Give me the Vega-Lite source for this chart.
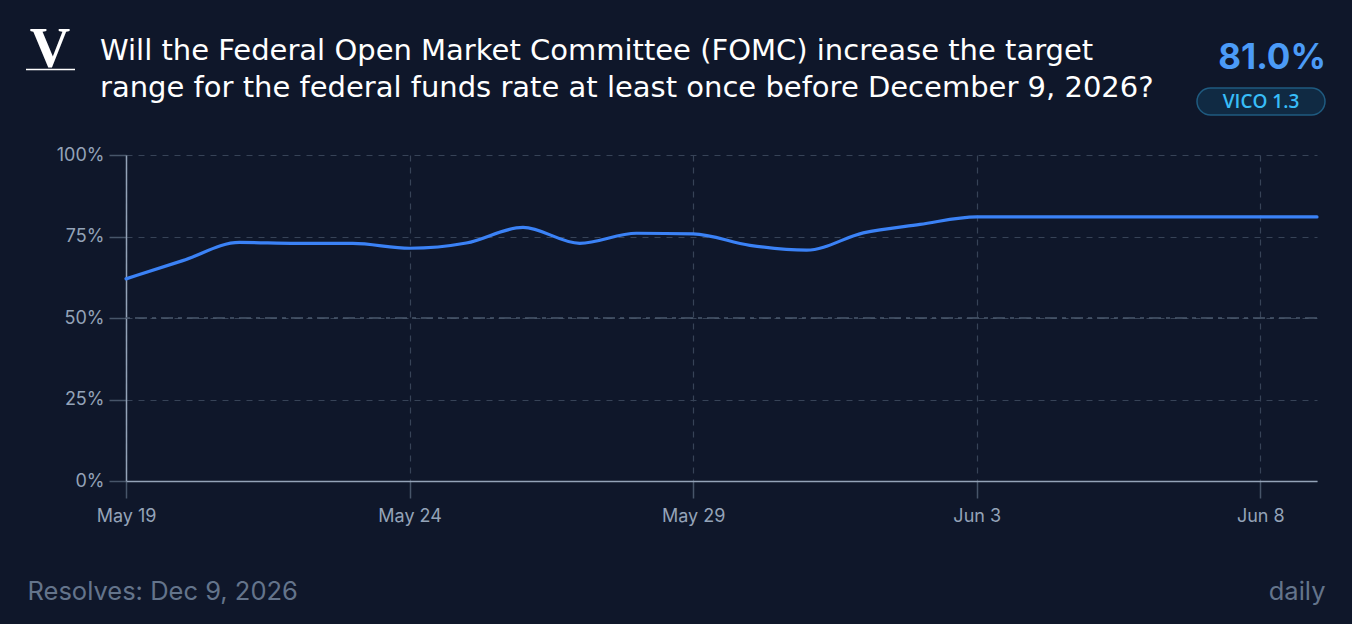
{
  "$schema": "https://vega.github.io/schema/vega-lite/v6.json",
  "width": 1191,
  "height": 326,
  "autosize": {"type": "none"},
  "padding": {"left": 126, "top": 155, "right": 35, "bottom": 143},
  "background": "#0f172a",
  "config": {
    "view": {"stroke": null},
    "font": "Inter",
    "axis": {
      "gridColor": "#374357",
      "gridDash": [6, 6],
      "gridWidth": 1.2,
      "domainColor": "#94a3b8",
      "domainWidth": 1.5,
      "tickColor": "#475569",
      "tickSize": 17,
      "tickWidth": 1.5,
      "labelColor": "#94a3b8",
      "labelFontSize": 18,
      "labelFont": "Inter"
    }
  },
  "datasets": {
    "series": [
      {"date": "2026-05-19T00:00:00", "value": 62.0},
      {"date": "2026-05-20T00:00:00", "value": 67.6},
      {"date": "2026-05-21T00:00:00", "value": 73.2},
      {"date": "2026-05-22T00:00:00", "value": 72.9},
      {"date": "2026-05-23T00:00:00", "value": 72.9},
      {"date": "2026-05-24T00:00:00", "value": 71.4},
      {"date": "2026-05-25T00:00:00", "value": 73.0},
      {"date": "2026-05-26T00:00:00", "value": 77.8},
      {"date": "2026-05-27T00:00:00", "value": 72.9},
      {"date": "2026-05-28T00:00:00", "value": 76.0},
      {"date": "2026-05-29T00:00:00", "value": 75.8},
      {"date": "2026-05-30T00:00:00", "value": 72.3},
      {"date": "2026-05-31T00:00:00", "value": 70.8},
      {"date": "2026-06-01T00:00:00", "value": 76.1},
      {"date": "2026-06-02T00:00:00", "value": 78.7},
      {"date": "2026-06-03T00:00:00", "value": 81.0},
      {"date": "2026-06-04T00:00:00", "value": 81.0},
      {"date": "2026-06-05T00:00:00", "value": 81.0},
      {"date": "2026-06-06T00:00:00", "value": 81.0},
      {"date": "2026-06-07T00:00:00", "value": 81.0},
      {"date": "2026-06-08T00:00:00", "value": 81.0},
      {"date": "2026-06-09T00:00:00", "value": 81.0}
    ],
    "midline": [{"level": 50}],
    "question": [{"label": "Will the Federal Open Market Committee (FOMC) increase the target\nrange for the federal funds rate at least once before December 9, 2026?"}],
    "current": [{"label": "81.0%"}],
    "model": [{"label": "VICO 1.3"}],
    "logo": [{"label": "V"}]
  },
  "layer": [
    {
      "data": {"name": "midline"},
      "mark": {"type": "rule", "color": "#4b5a6e", "strokeWidth": 1.5, "strokeDash": [12, 5, 4, 5]},
      "encoding": {
        "y": {"field": "level", "type": "quantitative", "scale": {"domain": [0, 100]}}
      }
    },
    {
      "data": {"name": "series"},
      "mark": {"type": "line", "color": "#3b82f6", "strokeWidth": 3.2, "interpolate": "monotone", "strokeCap": "round"},
      "encoding": {
        "x": {
          "field": "date",
          "type": "temporal",
          "scale": {
            "domain": [
              {"year": 2026, "month": 5, "date": 19},
              {"year": 2026, "month": 6, "date": 9}
            ],
            "nice": false
          },
          "axis": {
            "format": "%b %-d",
            "values": [
              {"year": 2026, "month": 5, "date": 19},
              {"year": 2026, "month": 5, "date": 24},
              {"year": 2026, "month": 5, "date": 29},
              {"year": 2026, "month": 6, "date": 3},
              {"year": 2026, "month": 6, "date": 8}
            ],
            "labelFlush": false,
            "labelPadding": 9,
            "title": "Resolves: Dec 9, 2026",
            "titleX": -99,
            "titleY": 118,
            "titleAlign": "left",
            "titleAnchor": null,
            "titleBaseline": "alphabetic",
            "titleFontSize": 25.5,
            "titleFontWeight": 400,
            "titleColor": "#64748b",
            "titleFont": "Inter"
          }
        },
        "y": {
          "field": "value",
          "type": "quantitative",
          "scale": {"domain": [0, 100]},
          "axis": {
            "values": [0, 25, 50, 75, 100],
            "labelExpr": "datum.value + '%'",
            "labelPadding": 5,
            "title": "daily",
            "titleAngle": 0,
            "titleX": 1199,
            "titleY": 444,
            "titleAlign": "right",
            "titleBaseline": "alphabetic",
            "titleFontSize": 25.5,
            "titleFontWeight": 400,
            "titleColor": "#64748b",
            "titleFont": "Inter"
          }
        }
      }
    },
    {
      "data": {"name": "question"},
      "mark": {"type": "text", "align": "left", "baseline": "alphabetic", "lineBreak": "\n", "lineHeight": 37, "font": "DejaVu Sans", "fontSize": 29, "fontWeight": 400, "color": "#ffffff"},
      "encoding": {
        "x": {"value": -26},
        "y": {"value": -95},
        "text": {"field": "label"}
      }
    },
    {
      "data": {"name": "current"},
      "mark": {"type": "text", "align": "right", "baseline": "alphabetic", "font": "Inter", "fontSize": 35, "fontWeight": "bold", "color": "#4b9bf7"},
      "encoding": {
        "x": {"value": 1200},
        "y": {"value": -86},
        "text": {"field": "label"}
      }
    },
    {
      "data": {"name": "model"},
      "mark": {"type": "rect", "cornerRadius": 13.5, "fill": "#102a43", "stroke": "#1f5b80", "strokeWidth": 1.5},
      "encoding": {
        "x": {"value": 1071},
        "x2": {"value": 1199},
        "y": {"value": -67},
        "y2": {"value": -40}
      }
    },
    {
      "data": {"name": "model"},
      "mark": {"type": "text", "align": "center", "baseline": "middle", "font": "Open Sans", "fontSize": 19, "fontWeight": 600, "color": "#38bdf8"},
      "encoding": {
        "x": {"value": 1135},
        "y": {"value": -53},
        "text": {"field": "label"}
      }
    },
    {
      "data": {"name": "logo"},
      "mark": {"type": "text", "align": "center", "baseline": "alphabetic", "font": "Liberation Serif", "fontSize": 56, "fontWeight": "bold", "color": "#ffffff"},
      "encoding": {
        "x": {"value": -76},
        "y": {"value": -88},
        "text": {"field": "label"}
      }
    },
    {
      "data": {"name": "logo"},
      "mark": {"type": "rule", "color": "#ffffff", "strokeWidth": 1.5},
      "encoding": {
        "x": {"value": -100},
        "x2": {"value": -51},
        "y": {"value": -85.5}
      }
    }
  ]
}
